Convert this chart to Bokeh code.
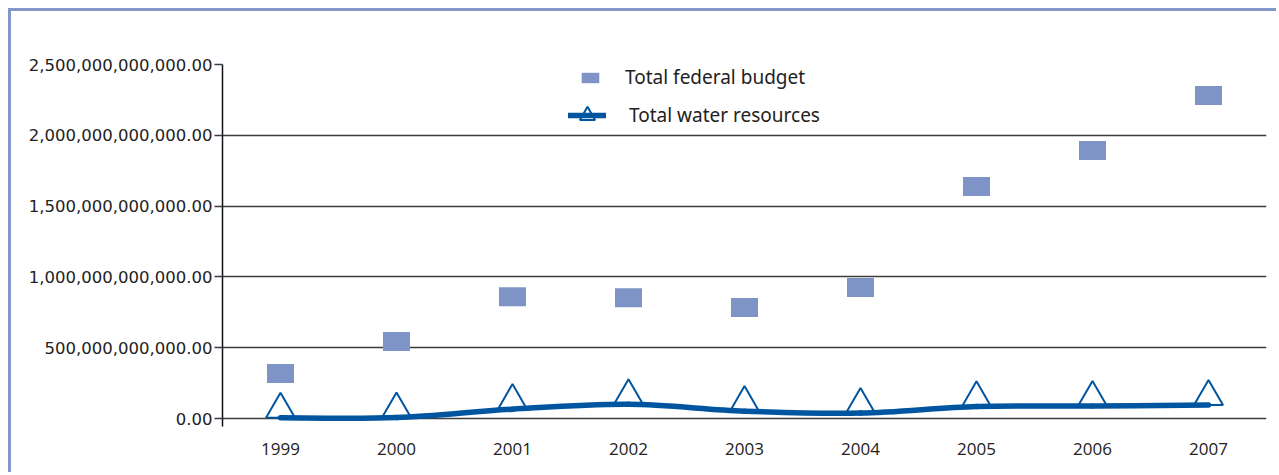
import numpy as np
from bokeh.plotting import figure
from bokeh.models import (Range1d, FixedTicker, NumeralTickFormatter, Legend,
                          LegendItem, ColumnDataSource)
from bokeh.transform import dodge
from bokeh.embed import file_html
from bokeh.resources import INLINE

# ---- data -------------------------------------------------------------
years = ["1999", "2000", "2001", "2002", "2003", "2004", "2005", "2006", "2007"]
federal_budget = [318e9, 544e9, 860e9, 853e9, 784e9, 925e9, 1638e9, 1893e9, 2281e9]
water_resources = [5e9, 7e9, 66e9, 100e9, 52e9, 38e9, 85e9, 88e9, 95e9]
y_ticks = [0, 500e9, 1000e9, 1500e9, 2000e9, 2500e9]
series_names = ["Total federal budget", "Total water resources"]

# ---- styling ----------------------------------------------------------
BUDGET_COLOR = "#7f94c6"
WATER_COLOR = "#0055a0"
GRID_COLOR = "#3c3c3c"
TEXT_COLOR = "#222222"

Y_MAX = 2.5e12
FRAME_H = 362          # frame height in px
ZERO_PAD = 8           # px below the zero line
PX = Y_MAX / (FRAME_H - ZERO_PAD)   # data units per pixel
Y_MIN = -ZERO_PAD * PX

xs = np.arange(len(years), dtype=float)

p = figure(width=1268, height=464, output_backend="svg", toolbar_location=None,
           title=None,
           x_range=Range1d(-0.5, len(years) - 0.5),
           y_range=Range1d(Y_MIN, Y_MAX),
           min_border_left=211, min_border_right=13,
           min_border_top=53, min_border_bottom=49,
           styles={"margin-left": "8px", "margin-top": "8px",
                   "border-left": "3px solid #8397c9",
                   "border-top": "3px solid #8397c9"})
p.outline_line_color = None
p.background_fill_color = "white"
p.border_fill_color = "white"

# grid
p.xgrid.visible = False
p.ygrid.ticker = FixedTicker(ticks=y_ticks)
p.ygrid.grid_line_color = GRID_COLOR
p.ygrid.grid_line_width = 1.6

# y axis
p.yaxis.ticker = FixedTicker(ticks=y_ticks)
p.yaxis.formatter = NumeralTickFormatter(format="0,0.00")
p.yaxis.axis_line_color = "#111111"
p.yaxis.axis_line_width = 1.5
p.yaxis.major_tick_out = 8
p.yaxis.major_tick_in = 0
p.yaxis.major_tick_line_color = GRID_COLOR
p.yaxis.major_tick_line_width = 1.6
p.yaxis.minor_tick_line_color = None
p.yaxis.major_label_standoff = 2
p.yaxis.major_label_text_font = "DejaVu Sans"
p.yaxis.major_label_text_font_size = "16.5px"
p.yaxis.major_label_text_color = TEXT_COLOR

# x axis
p.xaxis.ticker = FixedTicker(ticks=list(xs))
p.xaxis.major_label_overrides = {float(i): y for i, y in zip(xs, years)}
p.xaxis.major_label_overrides.update({int(i): y for i, y in zip(xs, years)})
p.xaxis.axis_line_color = None
p.xaxis.major_tick_line_color = None
p.xaxis.minor_tick_line_color = None
p.xaxis.major_label_standoff = 10
p.xaxis.major_label_text_font = "Open Sans"
p.xaxis.major_label_text_font_size = "17px"
p.xaxis.major_label_text_color = TEXT_COLOR

# ---- federal budget markers ------------------------------------------
bsrc = ColumnDataSource(dict(x=xs, y=federal_budget))
r_budget = p.rect(x="x", y="y", width=27, height=19, width_units="screen",
                  height_units="screen", source=bsrc,
                  fill_color=BUDGET_COLOR, line_color=None)

# ---- water resources: triangles + smoothed line ------------------------
TRI_SIZE = 29
tri_off = (TRI_SIZE * np.sqrt(3) / 2 / 3) * PX   # lift so base sits on value
wsrc = ColumnDataSource(dict(x=xs, y=water_resources))
r_tri = p.scatter(x="x", y=dodge("y", tri_off), source=wsrc, marker="triangle",
                  size=TRI_SIZE, fill_color="white", line_color=WATER_COLOR,
                  line_width=2)

# Catmull-Rom -> cubic Bezier control points computed from the data
wy = np.array(water_resources, dtype=float)
px_ = np.concatenate([[xs[0]], xs, [xs[-1]]])
py_ = np.concatenate([[wy[0]], wy, [wy[-1]]])
n = len(xs)
bz = dict(x0=[], y0=[], x1=[], y1=[], cx0=[], cy0=[], cx1=[], cy1=[])
for i in range(n - 1):
    p0x, p0y = px_[i], py_[i]
    p1x, p1y = px_[i + 1], py_[i + 1]
    p2x, p2y = px_[i + 2], py_[i + 2]
    p3x, p3y = px_[i + 3], py_[i + 3]
    bz["x0"].append(p1x); bz["y0"].append(p1y)
    bz["x1"].append(p2x); bz["y1"].append(p2y)
    bz["cx0"].append(p1x + (p2x - p0x) / 6); bz["cy0"].append(p1y + (p2y - p0y) / 6)
    bz["cx1"].append(p2x - (p3x - p1x) / 6); bz["cy1"].append(p2y - (p3y - p1y) / 6)
r_line = p.bezier(x0="x0", y0="y0", x1="x1", y1="y1", cx0="cx0", cy0="cy0",
                  cx1="cx1", cy1="cy1", source=ColumnDataSource(bz),
                  line_color=WATER_COLOR, line_width=5.5, line_cap="round")

# ---- legends ------------------------------------------------------------
common = dict(border_line_color=None, background_fill_alpha=0, padding=0,
              margin=0, spacing=0, label_text_font="Noto Sans",
              label_text_font_size="19px", label_text_color=TEXT_COLOR)

leg1 = Legend(items=[LegendItem(label=series_names[0], renderers=[r_budget])],
              location=(357, 336), glyph_width=22, glyph_height=13,
              label_height=20, label_standoff=24, **common)
leg2 = Legend(items=[LegendItem(label=series_names[1], renderers=[r_tri, r_line])],
              location=(346, 286), glyph_width=38, glyph_height=50,
              label_height=20, label_standoff=23, **common)
p.add_layout(leg1)
p.add_layout(leg2)

open("out.html", "w").write(file_html(p, INLINE))
